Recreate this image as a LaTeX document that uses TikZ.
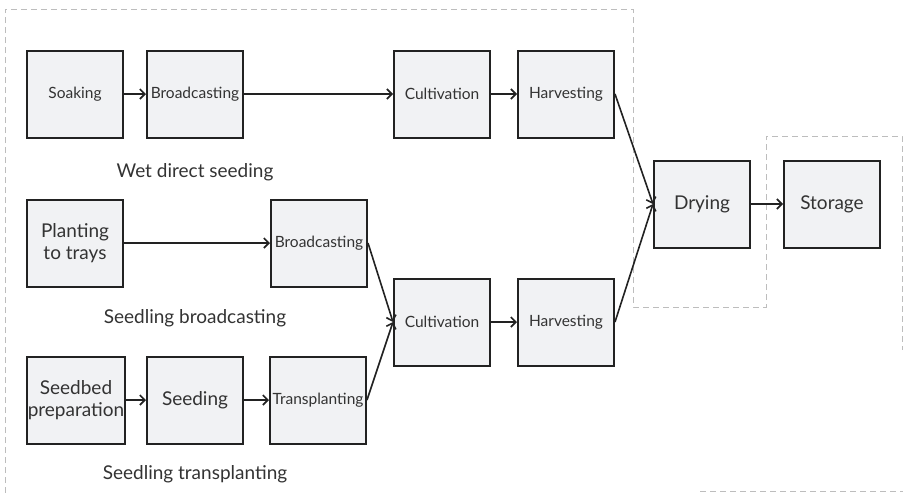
\documentclass[tikz,border=0pt]{standalone}
\usepackage{fontspec}
\setmainfont{Lato}
\usetikzlibrary{arrows.meta}
\definecolor{boxfill}{HTML}{F1F2F4}
\definecolor{boxline}{HTML}{222222}
\definecolor{fence}{HTML}{BDBDBD}
\definecolor{ink}{HTML}{333333}
\begin{document}
\begin{tikzpicture}[x=1pt,y=-1pt,>={Straight Barb[length=5pt,width=10pt]},
    stage/.style={draw=boxline,line width=2pt,fill=boxfill,text=ink,align=center,inner sep=1pt,
      minimum width=96pt,minimum height=87pt,font=\fontsize{15.5}{18}\selectfont},
    big/.style={font=\fontsize{19}{22}\selectfont},
    caption/.style={text=ink,font=\fontsize{19}{22}\selectfont},
    flow/.style={->,line width=1.6pt,draw=boxline}]
    \useasboundingbox (0,0) rectangle (903,493);
    % dashed groups
    \draw[fence,line width=1pt,dash pattern=on 6pt off 4pt] (5,493) -- (5,9) -- (633,9) -- (633,307) -- (766,307) -- (766,136) -- (902,136) -- (902,350);
    \draw[fence,line width=1pt,dash pattern=on 6pt off 4pt] (700,491) -- (903,491);
    % wet direct seeding
    \node[stage] (soak) at (75,94) {Soaking};
    \node[stage] (bc1) at (195,94) {Broadcasting};
    \node[stage] (cult1) at (442,94) {Cultivation};
    \node[stage] (harv1) at (566,94) {Harvesting};
    \node[caption] (wet) at (195,172) {Wet direct seeding};
    % seedling broadcasting
    \node[stage,big] (tray) at (75,243) {Planting\\to trays};
    \node[stage] (bc2) at (319,243) {Broadcasting};
    \node[caption] (sbc) at (195,318) {Seedling broadcasting};
    % seedling transplanting
    \node[stage,big] (bed) at (76,400) {Seedbed\\preparation};
    \node[stage,big] (seed) at (195,400) {Seeding};
    \node[stage] (trans) at (318,400) {Transplanting};
    \node[caption] (stp) at (195,474) {Seedling transplanting};
    \node[stage] (cult2) at (442,322) {Cultivation};
    \node[stage] (harv2) at (566,322) {Harvesting};
    \node[stage,big] (dry) at (702,204) {Drying};
    \node[stage,big] (store) at (832,204) {Storage};
    \draw[flow] (soak)--(bc1); \draw[flow] (bc1)--(cult1); \draw[flow] (cult1)--(harv1);
    \draw[flow] (tray)--(bc2); \draw[flow] (bed)--(seed); \draw[flow] (seed)--(trans);
    \draw[flow] (bc2.east)--(cult2.west); \draw[flow] (trans.east)--(cult2.west);
    \draw[flow] (cult2)--(harv2);
    \draw[flow] (harv1.east)--(dry.west); \draw[flow] (harv2.east)--(dry.west);
    \draw[flow] (dry)--(store);
\end{tikzpicture}
\end{document}
